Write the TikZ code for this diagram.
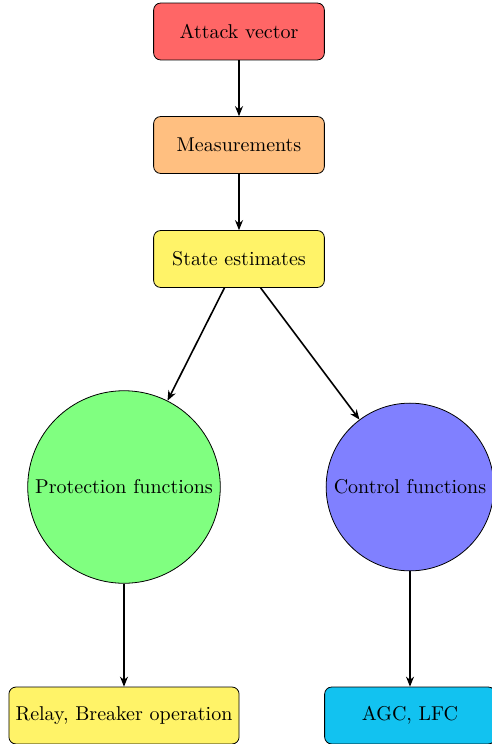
\documentclass[tikz,border=0pt]{standalone}
\usetikzlibrary{arrows.meta}
\definecolor{stateyel}{RGB}{255,243,104}
\definecolor{agcblue}{RGB}{18,194,240}
\begin{document}
\begin{tikzpicture}[x=0.5pt,y=-0.5pt,
  boxnode/.style={draw,rounded corners=3.5pt,minimum width=3cm,minimum height=1cm,font=\normalsize},
  circnode/.style={draw,circle},
  conn/.style={-{Stealth[length=5pt,width=4pt]},thick}]
\useasboundingbox (0,0) rectangle (492,744);
\node[boxnode,fill=red!60] (atk) at (239,31.5) {Attack vector};
\node[boxnode,fill=orange!50] (meas) at (239,145) {Measurements};
\node[boxnode,fill=stateyel] (state) at (239,259) {State estimates};
\node[circnode,fill=green!50] (prot) at (124,487) {Protection functions};
\node[circnode,fill=blue!50] (ctrl) at (410,487) {Control functions};
\node[boxnode,fill=stateyel] (relay) at (124,715.5) {Relay, Breaker operation};
\node[boxnode,fill=agcblue] (agc) at (410,715.5) {AGC, LFC};
\draw[conn] (atk) -- (meas);
\draw[conn] (meas) -- (state);
\draw[conn] (state) -- (prot);
\draw[conn] (state) -- (ctrl);
\draw[conn] (prot) -- (relay);
\draw[conn] (ctrl) -- (agc);
\end{tikzpicture}
\end{document}
